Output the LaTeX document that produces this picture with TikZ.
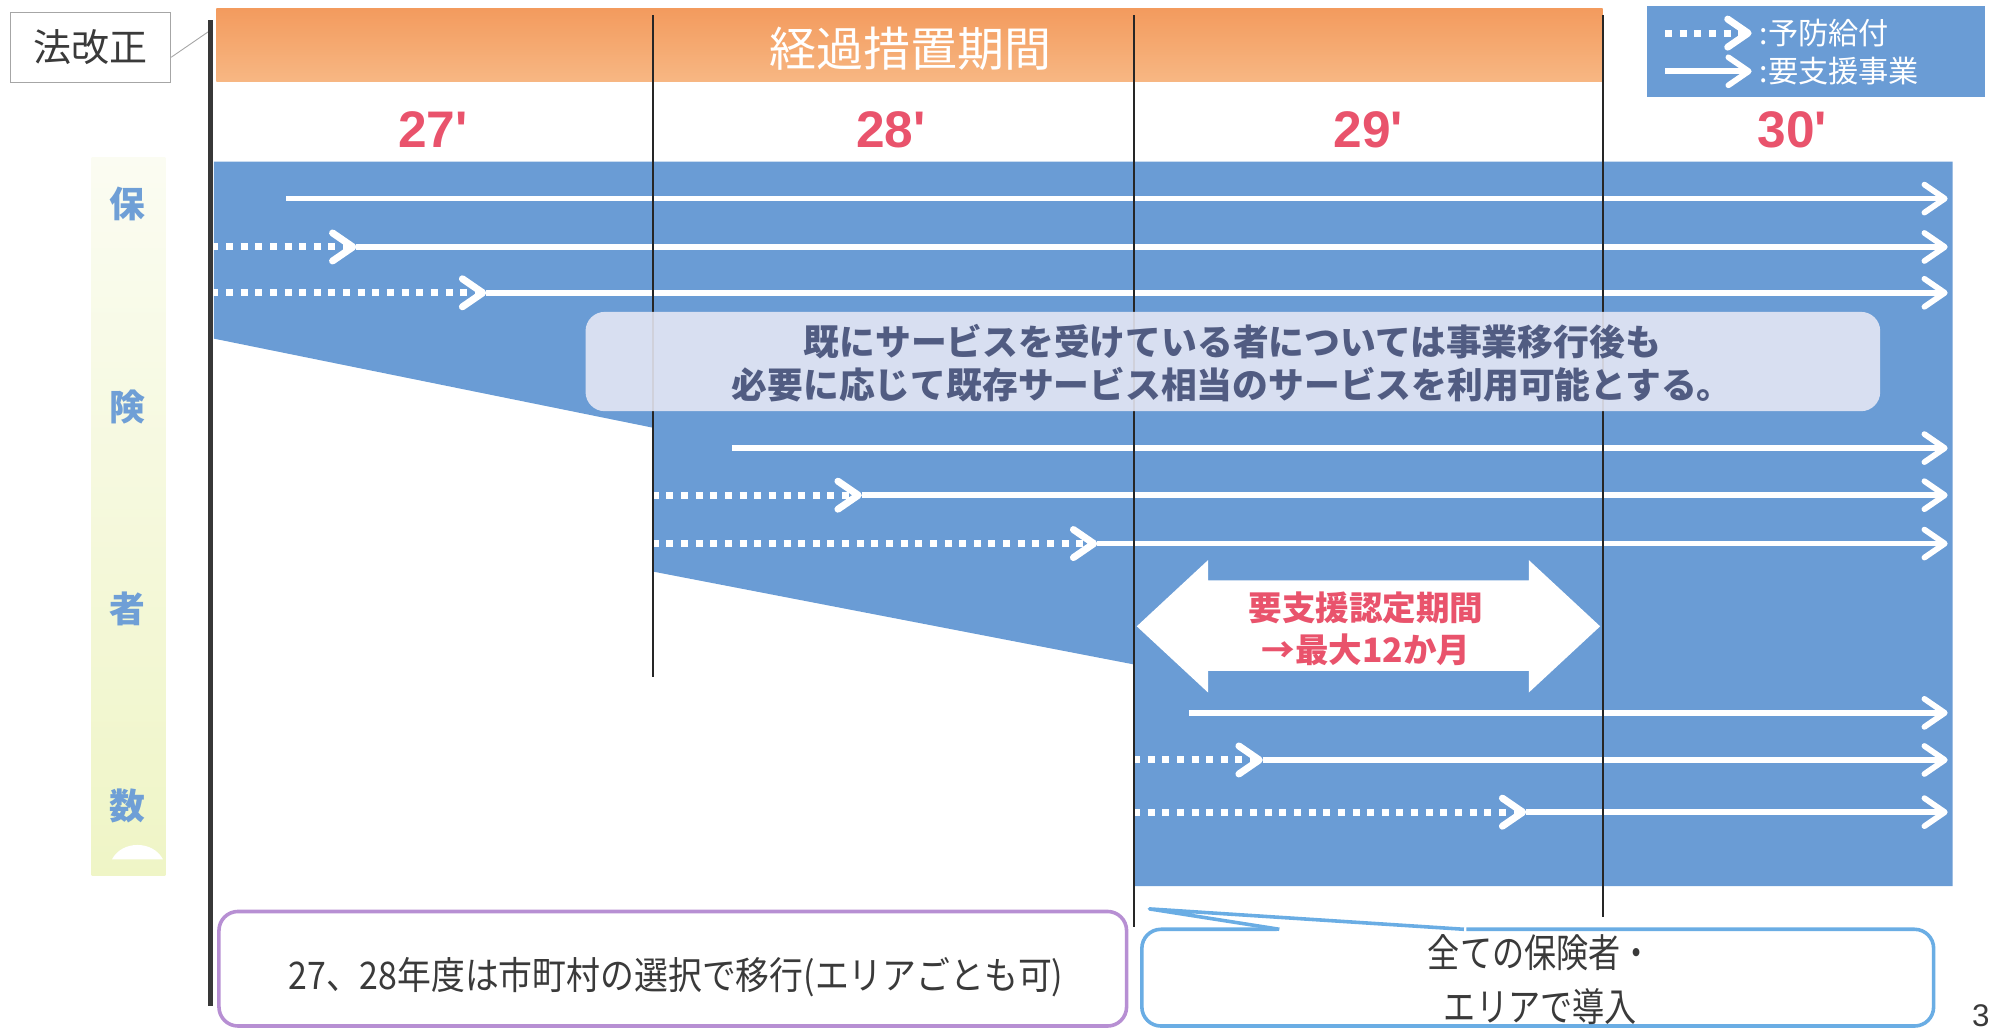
\documentclass[tikz,border=0pt]{standalone}
\usepackage{fontspec}
\newfontfamily\jp{Noto Sans CJK JP}
\newfontfamily\arialf{Liberation Sans}
\usetikzlibrary{arrows.meta}
\definecolor{blueA}{HTML}{6A9CD5}
\definecolor{orTop}{HTML}{F39B5E}
\definecolor{orBot}{HTML}{F7B783}
\definecolor{redA}{HTML}{E9536C}
\definecolor{msgTxt}{HTML}{515C82}
\definecolor{msgFill}{HTML}{E8E9F5}
\definecolor{colTxt}{HTML}{6F9FD6}
\definecolor{colTop}{HTML}{FBFCF2}
\definecolor{colMid}{HTML}{F7FADF}
\definecolor{colBot}{HTML}{EFF5C6}
\definecolor{purB}{HTML}{B78FD3}
\definecolor{calB}{HTML}{6AADE4}
\definecolor{darkT}{HTML}{3A3A3A}
\begin{document}
\begin{tikzpicture}[x=0.2mm,y=-0.2mm,
  chev/.tip={Straight Barb[length=3.2mm,width=4.4mm,round]},
  solarrow/.style={draw=white,line width=0.9mm,-chev},
  dotarrow/.style={draw=white,line width=1.1mm,dash pattern=on 1.1mm off 1.2mm,-chev},
  vline/.style={draw=black!85,line width=0.8pt},
  jptext/.style={font=\jp, inner sep=0pt}
]
\useasboundingbox (0,0) rectangle (1568,810);

% law revision box
\node[draw=black!35, fill=white, line width=0.5pt, minimum width=126*0.2mm, minimum height=55*0.2mm, font=\jp\fontsize{17}{20}\selectfont, text=darkT] (law) at (71,37) {法改正};
\coordinate (lawtip) at (165,24);
\draw[black!35, line width=0.4pt] (law.east) ++(0,8) -- (lawtip);

% orange bar
\shade[top color=orTop, bottom color=orBot] (170,7) rectangle (1259,64);
\node[jptext, text=white, font=\jp\fontsize{21}{24}\selectfont] (period) at (715,38) {経過措置期間};

% legend
\fill[blueA] (1294,5) rectangle (1559,76);
\draw[dotarrow] (1308,26) -- (1376,26);
\draw[solarrow] (1308,56) -- (1376,56);
\node[jptext, text=white, anchor=west, font=\jp\fontsize{13.5}{16}\selectfont] (lg1) at (1382,26) {:予防給付};
\node[jptext, text=white, anchor=west, font=\jp\fontsize{13.5}{16}\selectfont] (lg2) at (1382,56) {:要支援事業};

% years
\foreach \yx/\yl in {340/27, 700/28, 1075/29, 1408/30}{
  \node[font=\arialf\bfseries\fontsize{23}{26}\selectfont, text=redA, inner sep=0pt] (y\yl) at (\yx,102) {\yl\textquotesingle};
}

% left column
\shade[top color=colTop, middle color=colMid, bottom color=colBot] (72,124) rectangle (130,688);
\fill[white] (88,675) .. controls (96,660) and (120,660) .. (128,675) -- cycle;
\foreach \cy/\ch in {160/保, 320/険, 478/者, 633/数}{
  \node[jptext, text=colTxt, font=\jp\bfseries\fontsize{16}{18}\selectfont] at (100,\cy) {\ch};
}

% blue region
\fill[blueA] (168,127) -- (1534,127) -- (1534,696) -- (891,696) -- (891,522) -- (513,449) -- (513,336) -- (168,266) -- cycle;

% arrows group 1
\draw[solarrow] (225,156) -- (1530,156);
\draw[dotarrow] (166,194) -- (280,194);
\draw[solarrow] (280,194) -- (1530,194);
\draw[dotarrow] (166,230) -- (382,230);
\draw[solarrow] (382,230) -- (1530,230);
% group 2
\draw[solarrow] (575,352) -- (1530,352);
\draw[dotarrow] (512,389) -- (677,389);
\draw[solarrow] (677,389) -- (1530,389);
\draw[dotarrow] (512,427) -- (862,427);
\draw[solarrow] (862,427) -- (1530,427);
% group 3
\draw[solarrow] (934,560) -- (1530,560);
\draw[dotarrow] (890,597) -- (992,597);
\draw[solarrow] (992,597) -- (1530,597);
\draw[dotarrow] (890,638) -- (1199,638);
\draw[solarrow] (1199,638) -- (1530,638);

% vertical lines
\draw[black!78, line width=2.2pt] (165,16) -- (165,790);
\draw[vline] (513,12) -- (513,532);
\draw[vline] (891,12) -- (891,728);
\draw[vline] (1259,12) -- (1259,720);

% message box
\fill[msgFill, fill opacity=0.88, rounded corners=15*0.2mm] (460,245) rectangle (1477,323);
\node[jptext, text=msgTxt, align=center, font=\jp\bfseries\fontsize{16}{19.3}\selectfont] (msg) at (968,285)
  {既にサービスを受けている者については事業移行後も\\必要に応じて既存サービス相当のサービスを利用可能とする。};

% double arrow
\fill[white] (893,492) -- (949,440) -- (949,456) -- (1201,456) -- (1201,440) -- (1257,492) -- (1201,544) -- (1201,527) -- (949,527) -- (949,544) -- cycle;
\node[jptext, text=redA, align=center, font=\jp\bfseries\fontsize{15}{18.8}\selectfont] (period12) at (1073,494)
  {要支援認定期間\\→最大12か月};

% bottom left box
\draw[purB, line width=1.6pt, fill=white, rounded corners=15*0.2mm] (172,716) rectangle (885,806);
\node[jptext, text=darkT, font=\jp\fontsize{17}{20}\selectfont] (leftnote) at (531,768)
  {\scalebox{0.89}[1]{27、28年度は市町村の選択で移行(エリアごとも可)}};

% callout
\draw[calB, line width=1.6pt, fill=white, rounded corners=15*0.2mm] (897,730) rectangle (1519,806);
\fill[white] (1003,727) -- (903,714) -- (1152,727) -- (1152,733) -- (1003,733) -- cycle;
\coordinate (calltip) at (903,714);
\draw[calB, line width=1.6pt, line join=round] (1005,730) -- (calltip) -- (1150,730);
\node[jptext, text=darkT, font=\jp\fontsize{17.5}{20}\selectfont] (right1) at (1210,748) {\scalebox{0.82}[1]{全ての保険者・}};
\node[jptext, text=darkT, font=\jp\fontsize{17.5}{20}\selectfont] (right2) at (1210,791) {\scalebox{0.82}[1]{エリアで導入}};

% page number
\node[font=\arialf\fontsize{14}{16}\selectfont, text=darkT, inner sep=0pt] (pg) at (1556,798) {3};
\end{tikzpicture}
\end{document}
